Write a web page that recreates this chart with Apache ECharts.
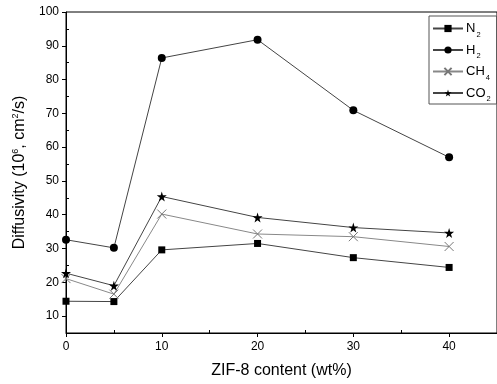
<!DOCTYPE html>
<html><head><meta charset="utf-8">
<script src="https://cdn.jsdelivr.net/npm/echarts@6/dist/echarts.min.js"></script>
<style>html,body{margin:0;padding:0;background:#fff}#c{width:497px;height:384px}</style>
</head><body><div id="c"></div>
<script>
const xValues = [0, 5, 10, 20, 30, 40];
const n2 = [14.4, 14.3, 29.6, 31.5, 27.3, 24.4];
const h2 = [32.6, 30.2, 86.4, 91.8, 70.9, 57.0];
const ch4 = [21.1, 16.5, 40.2, 34.3, 33.5, 30.6];
const co2 = [22.7, 19.0, 45.4, 39.2, 36.2, 34.6];
const seriesNames = ['N2', 'H2', 'CH4', 'CO2'];
const xMajorTicks = [0, 10, 20, 30, 40];
const xMinorTicks = [5, 15, 25, 35];
const yMajorTicks = [10, 20, 30, 40, 50, 60, 70, 80, 90, 100];
const yMinorTicks = [15, 25, 35, 45, 55, 65, 75, 85, 95];

const FONT = 'Arial, "Liberation Sans", sans-serif';
const star = 'path://M50,0 L61,35 L98,35 L68,57 L79,91 L50,70 L21,91 L32,57 L2,35 L39,35 Z';
const cross = 'path://M0,0 L10,10 M10,0 L0,10';
const pts = arr => xValues.map((x, i) => [x, arr[i]]);

const chart = echarts.init(document.getElementById('c'), null, {renderer: 'canvas'});
const legendRich = {
  n: {fontSize: 13, fontFamily: FONT, color: '#000', lineHeight: 20, verticalAlign: 'middle'},
  s: {fontSize: 7.5, fontFamily: FONT, color: '#000', lineHeight: 6, verticalAlign: 'bottom', padding: [0, 0, 0, 1]}
};
const axisNameRich = {
  t: {fontSize: 16, fontFamily: FONT, color: '#000'},
  p: {fontSize: 9, fontFamily: FONT, color: '#000', verticalAlign: 'top', padding: [0, 0, 9, 0]}
};
chart.setOption({
  animation: false,
  textStyle: {fontFamily: FONT},
  grid: {left: 66, right: -4, top: 12, bottom: 51, show: true, borderColor: '#000', borderWidth: 1, containLabel: false},
  legend: {
    left: 429, top: 16,
    orient: 'vertical', itemWidth: 30, itemHeight: 9, itemGap: 5,
    padding: [6, 6, 1, 3],
    borderColor: '#555', borderWidth: 1,
    data: seriesNames,
    formatter: name => '{n|' + name.replace(/\d/, '') + '}{s|' + name.replace(/\D/g, '') + '}',
    textStyle: {rich: legendRich, padding: [0, 0, 0, -2]}
  },
  xAxis: [{
    type: 'value', min: 0, max: 45, position: 'bottom',
    axisLine: {show: true, onZero: false, lineStyle: {color: '#000', width: 1}},
    axisTick: {show: true, inside: false, length: 4, customValues: xMajorTicks, lineStyle: {color: '#000'}},
    axisLabel: {customValues: xMajorTicks, fontSize: 12, color: '#000', margin: 8, fontFamily: FONT},
    splitLine: {show: false},
    name: 'ZIF-8 content (wt%)', nameLocation: 'middle', nameGap: 30,
    nameTextStyle: {fontSize: 16, color: '#000', fontFamily: FONT}
  }, {
    type: 'value', min: 0, max: 45, position: 'bottom',
    axisLine: {show: false},
    axisTick: {show: true, inside: true, length: 3, customValues: xMinorTicks, lineStyle: {color: '#000'}},
    axisLabel: {show: false},
    splitLine: {show: false}
  }],
  yAxis: [{
    type: 'value', min: 5, max: 100, position: 'left',
    axisLine: {show: true, onZero: false, lineStyle: {color: '#000', width: 1}},
    axisTick: {show: true, inside: false, length: 4, customValues: yMajorTicks, lineStyle: {color: '#000'}},
    axisLabel: {customValues: yMajorTicks, fontSize: 12, color: '#000', margin: 7, fontFamily: FONT},
    splitLine: {show: false},
    name: '{t|Diffusivity (10}{p|6}{t|, cm}{p|2}{t|/s)}', nameLocation: 'middle', nameGap: 34, nameRotate: 90,
    nameTextStyle: {rich: axisNameRich}
  }, {
    type: 'value', min: 5, max: 100, position: 'left',
    axisLine: {show: false},
    axisTick: {show: true, inside: true, length: 3, customValues: yMinorTicks, lineStyle: {color: '#000'}},
    axisLabel: {show: false},
    splitLine: {show: false}
  }],
  series: [
    {name: 'N2', type: 'line', data: pts(n2), symbol: 'rect', symbolSize: 7,
     lineStyle: {color: '#444', width: 1}, itemStyle: {color: '#000'}},
    {name: 'H2', type: 'line', data: pts(h2), symbol: 'circle', symbolSize: 8,
     lineStyle: {color: '#444', width: 1}, itemStyle: {color: '#000'}},
    {name: 'CH4', type: 'line', data: pts(ch4), symbol: cross, symbolSize: 9,
     lineStyle: {color: '#888', width: 1}, itemStyle: {color: 'none', borderColor: '#777', borderWidth: 1}},
    {name: 'CO2', type: 'line', data: pts(co2), symbol: star, symbolSize: 10,
     lineStyle: {color: '#444', width: 1}, itemStyle: {color: '#000'}}
  ]
});
</script></body></html>
